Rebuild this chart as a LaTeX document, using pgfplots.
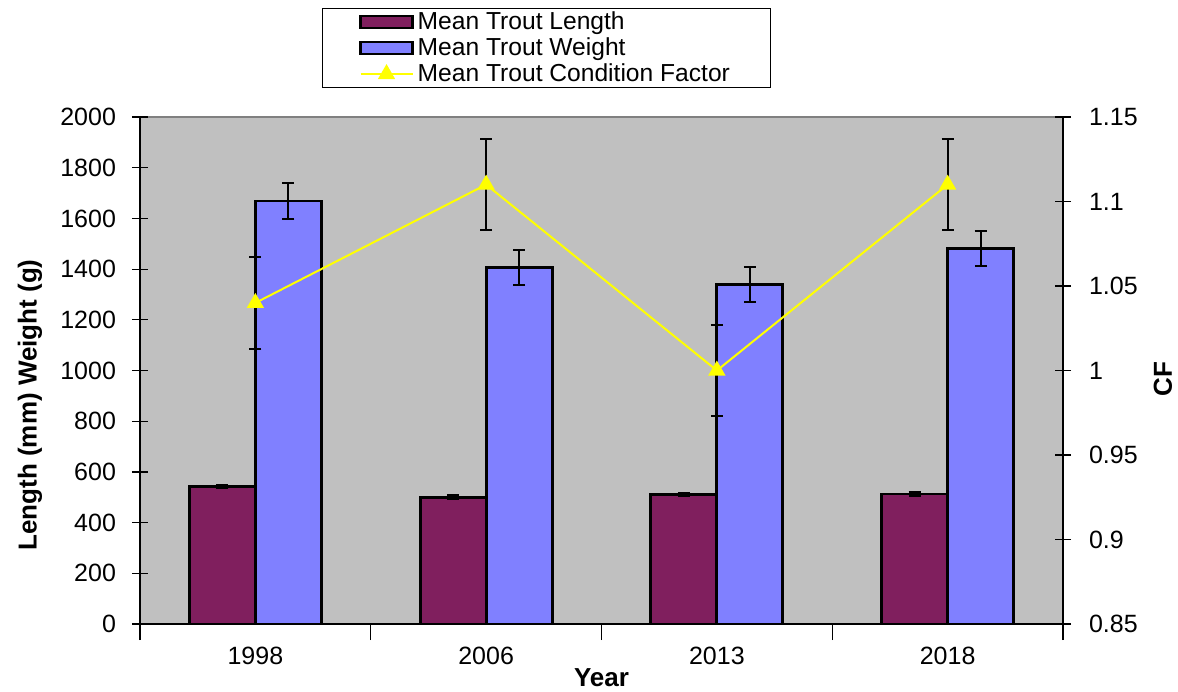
\documentclass[border=0pt]{standalone}
\usepackage{fontspec}
\setmainfont{Liberation Sans}
\usepackage{pgfplots}
\pgfplotsset{compat=1.18}
\definecolor{bggray}{RGB}{192,192,192}
\definecolor{lengthc}{RGB}{128,31,94}
\definecolor{weightc}{RGB}{128,128,255}
\definecolor{cfc}{RGB}{255,255,0}
\pgfplotsset{
  common/.style={
    width=461.5pt, height=253.5pt, scale only axis,
    xmin=-0.5, xmax=3.5,
    /pgf/number format/assume math mode=true,
    /pgf/number format/1000 sep={},
    tick align=center, major tick length=8pt,
    tick style={black, line width=0.6pt},
    ticklabel style={font=\fontsize{12.5}{14}\selectfont},
    label style={font=\bfseries\fontsize{13}{15}\selectfont},
  },
  errs/.style={/pgfplots/error bars/y dir=both, /pgfplots/error bars/y explicit,
    /pgfplots/error bars/error bar style={line width=1pt, black, solid},
    /pgfplots/error bars/error mark options={rotate=90, mark size=3pt, line width=1pt, black, solid}},
  cflegend/.style={legend image code/.code={\draw[##1,mark repeat=2,mark phase=2] plot coordinates {(0pt,0pt)(13pt,0pt)(26pt,0pt)};}},
}
\begin{document}
\begin{tikzpicture}
\begin{axis}[common, name=ax,
  ybar=0pt, bar width=33pt,
  ymin=0, ymax=2000, ytick={0,200,400,600,800,1000,1200,1400,1600,1800,2000},
  axis x line*=bottom, axis y line*=left,
  axis line style={line width=0.6pt},
  axis background/.style={fill=bggray, draw=gray, line width=0.8pt},
  xtick={0,1,2,3}, xticklabels={1998,2006,2013,2018},
  minor xtick={-0.5,0.5,1.5,2.5,3.5},
  major x tick style={draw=none}, minor tick length=8pt,
  yticklabel style={xshift=-4.5pt},
  xlabel={Year},
  xlabel style={at={(axis description cs:0.5,-0.106)}, anchor=center, inner sep=1pt},
  ylabel={Length (mm) Weight (g)},
  ylabel style={at={(axis description cs:-0.1192,0.432)}, anchor=center},
]
\addplot[fill=lengthc, draw=black, line width=1.4pt, errs] coordinates {
  (0,543) +- (0,7) (1,500) +- (0,7) (2,511) +- (0,7) (3,513) +- (0,7)};
\addplot[fill=weightc, draw=black, line width=1.4pt, errs] coordinates {
  (0,1669) +- (0,70) (1,1406) +- (0,70) (2,1339) +- (0,70) (3,1481) +- (0,70)};
\end{axis}
\begin{axis}[common,
  ymin=0.85, ymax=1.15, ytick={0.85,0.9,0.95,1,1.05,1.1,1.15},
  yticklabel style={/pgf/number format/fixed, /pgf/number format/precision=2, xshift=5.5pt},
  axis y line*=right, axis x line=none,
  axis line style={line width=0.6pt},
  ylabel={CF},
  ylabel style={at={(axis description cs:1.1083,0.483)}, anchor=center},
  legend style={at={(axis description cs:0.197,1.215)}, anchor=north west,
    draw=black, line width=0.5pt, font=\fontsize{12.3}{13}\selectfont,
    nodes={inner ysep=1.55pt},
    cells={anchor=west}, inner xsep=18.5pt, inner ysep=0pt, row sep=-0.5pt},
]
\addlegendimage{legend image code/.code={\draw[fill=lengthc,draw=black,line width=1.2pt] (0pt,-3pt) rectangle (26pt,3pt);}}
\addlegendentry{Mean Trout Length}
\addlegendimage{legend image code/.code={\draw[fill=weightc,draw=black,line width=1.2pt] (0pt,-3pt) rectangle (26pt,3pt);}}
\addlegendentry{Mean Trout Weight}
\addplot[cfc, line width=1pt, mark=triangle*, mark size=4pt, cflegend, errs] coordinates {
  (0,1.04) +- (0,0.027) (1,1.11) +- (0,0.027) (2,1.00) +- (0,0.027) (3,1.11) +- (0,0.027)};
\addlegendentry{Mean Trout Condition Factor}
\end{axis}
\path (ax.south west) +(-70pt,-33.5pt) coordinate (bl);
\path (ax.north east) +(57.5pt,58.5pt) coordinate (tr);
\pgfresetboundingbox
\path (bl) rectangle (tr);
\end{tikzpicture}
\end{document}
